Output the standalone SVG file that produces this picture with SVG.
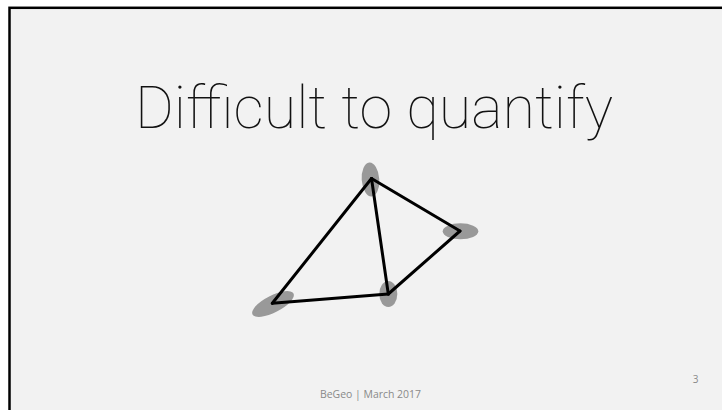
<svg xmlns="http://www.w3.org/2000/svg" width="722" height="410" viewBox="0 0 722 410">
<style>
.blob{fill:#999999}
.edge{stroke:#000;stroke-width:3;fill:none;stroke-linecap:round;stroke-linejoin:round}
.title{font-family:Roboto,"Liberation Sans",sans-serif;font-weight:100;font-size:60px;fill:#111111}
.foot{font-family:"Open Sans","Liberation Sans",sans-serif;font-size:10px;fill:#898989}
</style>
<rect x="0" y="0" width="722" height="410" fill="#ffffff"/>
<rect x="9.5" y="7.8" width="720" height="410" fill="#f2f2f2" stroke="#000" stroke-width="2.5"/>
<text class="title" x="374" y="128" text-anchor="middle" textLength="478" lengthAdjust="spacingAndGlyphs">Difficult to quantify</text>
<g id="node-top"><ellipse class="blob" cx="370.5" cy="179.5" rx="8.8" ry="17" transform="rotate(-4 370.5 179.5)"/></g>
<g id="node-right"><ellipse class="blob" cx="460.5" cy="231.3" rx="17.8" ry="8"/></g>
<g id="node-bottomleft"><ellipse class="blob" cx="273" cy="304" rx="23" ry="8.5" transform="rotate(-27 273 304)"/></g>
<g id="node-bottommid"><ellipse class="blob" cx="388.3" cy="294" rx="9" ry="13"/></g>
<g id="connectors">
<line class="edge" x1="371.5" y1="178.5" x2="460" y2="231"/>
<line class="edge" x1="460" y1="231" x2="388.3" y2="294"/>
<line class="edge" x1="388.3" y1="294" x2="272.3" y2="303.3"/>
<line class="edge" x1="272.3" y1="303.3" x2="371.5" y2="178.5"/>
<line class="edge" x1="371.5" y1="178.5" x2="388.3" y2="294"/>
</g>
<text class="foot" x="370.5" y="398" text-anchor="middle" textLength="101" lengthAdjust="spacingAndGlyphs">BeGeo | March 2017</text>
<text class="foot" x="695.5" y="383" text-anchor="middle" font-size="9">3</text>
</svg>
